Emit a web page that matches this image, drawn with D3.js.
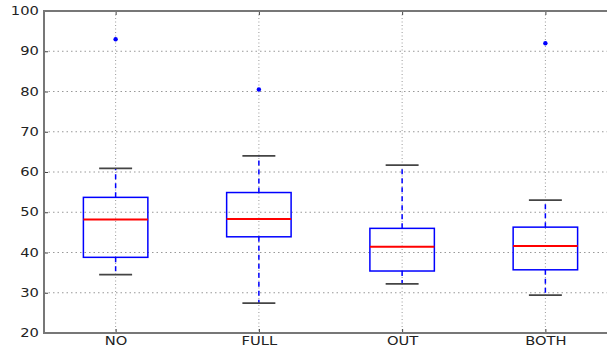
<!DOCTYPE html>
<html>
<head>
<meta charset="utf-8">
<script src="https://cdn.jsdelivr.net/npm/d3@7"></script>
<style>
  body { margin: 0; background: #fff; }
  #vis { width: 607px; height: 350px; overflow: hidden; }
  .tick text { font-family: "DejaVu Sans", sans-serif; font-size: 11.5px; fill: #222; }
</style>
</head>
<body>
<div id="vis"></div>
<script>
// Data
const categories = ["NO", "FULL", "OUT", "BOTH"]
const q1 = [38.8, 43.9, 35.4, 35.7]
const medians = [48.2, 48.3, 41.4, 41.6]
const q3 = [53.7, 54.9, 46.0, 46.3]
const whiskerLow = [34.5, 27.4, 32.2, 29.4]
const whiskerHigh = [60.9, 64.0, 61.7, 53.0]
const outliers = [[93.0], [80.5], [], [92.0]]
const yTicks = [20, 30, 40, 50, 60, 70, 80, 90, 100]

// Visualization parameters
const margin = {left: 44, top: 11, bottom: 17, right: -10}
const width = 607 - margin.left - margin.right
const height = 350 - margin.top - margin.bottom
const boxWidth = 0.45
const capWidth = 0.23
const stretch = 1.28   // the original figure was squeezed vertically

const boxes = categories.map((c, i) => ({
    name: c, pos: i + 1, q1: q1[i], med: medians[i], q3: q3[i],
    lo: whiskerLow[i], hi: whiskerHigh[i], out: outliers[i]
}))

const x = d3.scaleLinear().domain([0.5, 4.5]).range([0, width])
const y = d3.scaleLinear().domain([20, 100]).range([height, 0])

const svg = d3.select("#vis")
    .append("svg")
    .attr("width", 607)
    .attr("height", 350)
  .append("g")
    .attr("transform", `translate(${margin.left},${margin.top})`)

// grid
svg.selectAll(".hgrid")
    .data(yTicks.slice(1, -1))
    .enter()
    .append("line")
    .attr("x1", 0).attr("x2", width)
    .attr("y1", d => y(d)).attr("y2", d => y(d))
    .style("stroke", "#999")
    .style("stroke-dasharray", "1.5,3")
svg.selectAll(".vgrid")
    .data(boxes)
    .enter()
    .append("line")
    .attr("x1", d => x(d.pos)).attr("x2", d => x(d.pos))
    .attr("y1", 0).attr("y2", height)
    .style("stroke", "#999")
    .style("stroke-dasharray", "1,2.5")

// whiskers
svg.selectAll(".whiskHi")
    .data(boxes)
    .enter()
    .append("line")
    .attr("x1", d => x(d.pos)).attr("x2", d => x(d.pos))
    .attr("y1", d => y(d.q3)).attr("y2", d => y(d.hi))
    .style("stroke", "#0000ff")
    .style("stroke-width", 1.5)
    .style("stroke-dasharray", "5,4")
svg.selectAll(".whiskLo")
    .data(boxes)
    .enter()
    .append("line")
    .attr("x1", d => x(d.pos)).attr("x2", d => x(d.pos))
    .attr("y1", d => y(d.q1)).attr("y2", d => y(d.lo))
    .style("stroke", "#0000ff")
    .style("stroke-width", 1.5)
    .style("stroke-dasharray", "5,4")

// caps
const capScale = x(1 + capWidth) - x(1)
svg.selectAll(".cap")
    .data(boxes.flatMap(d => [{pos: d.pos, v: d.lo}, {pos: d.pos, v: d.hi}]))
    .enter()
    .append("line")
    .attr("x1", d => x(d.pos) - capScale / 2)
    .attr("x2", d => x(d.pos) + capScale / 2)
    .attr("y1", d => y(d.v)).attr("y2", d => y(d.v))
    .style("stroke", "#444")
    .style("stroke-width", 1.8)

// boxes
const bw = x(1 + boxWidth) - x(1)
svg.selectAll(".box")
    .data(boxes)
    .enter()
    .append("rect")
    .attr("x", d => x(d.pos) - bw / 2)
    .attr("width", bw)
    .attr("y", d => y(d.q3))
    .attr("height", d => y(d.q1) - y(d.q3))
    .style("fill", "none")
    .style("stroke", "#0000ff")
    .style("stroke-width", 1.5)

// medians
svg.selectAll(".median")
    .data(boxes)
    .enter()
    .append("line")
    .attr("x1", d => x(d.pos) - bw / 2)
    .attr("x2", d => x(d.pos) + bw / 2)
    .attr("y1", d => y(d.med)).attr("y2", d => y(d.med))
    .style("stroke", "#ff0000")
    .style("stroke-width", 2)

// fliers
svg.selectAll(".flier")
    .data(boxes.flatMap(d => d.out.map(v => ({pos: d.pos, v: v}))))
    .enter()
    .append("circle")
    .attr("cx", d => x(d.pos))
    .attr("cy", d => y(d.v))
    .attr("r", 2.2)
    .style("fill", "#0000ff")

// axes, ticks pointing inwards
const yAxis = svg.append("g")
    .call(d3.axisLeft(y).tickValues(yTicks).tickSizeInner(-4).tickSizeOuter(0).tickPadding(4))
const xAxis = svg.append("g")
    .attr("transform", `translate(0,${height})`)
    .call(d3.axisBottom(x).tickValues([1, 2, 3, 4]).tickFormat((d, i) => categories[i])
        .tickSizeInner(-4).tickSizeOuter(0).tickPadding(3.5))
const topAxis = svg.append("g")
    .call(d3.axisTop(x).tickValues([1, 2, 3, 4]).tickFormat("").tickSizeInner(-4).tickSizeOuter(0))

svg.selectAll(".domain").remove()
svg.selectAll(".tick line").style("stroke", "#444")
svg.selectAll(".tick text").attr("transform", `scale(${stretch},1)`)

// frame
svg.append("rect")
    .attr("x", 0).attr("y", 0)
    .attr("width", width).attr("height", height)
    .style("fill", "none")
    .style("stroke", "#777")
    .style("stroke-width", 2)
</script>
</body>
</html>
